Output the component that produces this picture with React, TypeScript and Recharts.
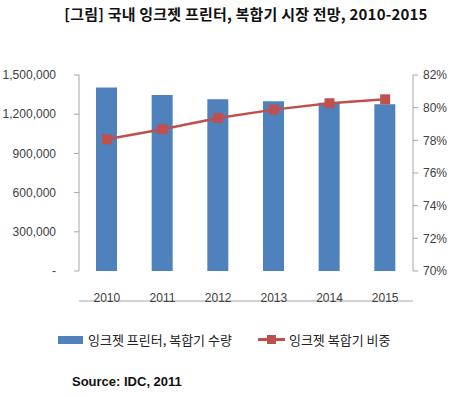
import React from 'react';
import { ComposedChart, Bar, Line, XAxis, YAxis } from 'recharts';

const years = ['2010', '2011', '2012', '2013', '2014', '2015'];
const units = [1405000, 1347000, 1314000, 1299000, 1288000, 1276000];
const share = [0.7806, 0.7868, 0.7937, 0.7988, 0.8027, 0.8051];
const leftTicks = [0, 300000, 600000, 900000, 1200000, 1500000];
const rightTicks = [0.7, 0.72, 0.74, 0.76, 0.78, 0.8, 0.82];
const seriesNames = ['잉크젯 프린터, 복합기 수량', '잉크젯 복합기 비중'];
const title = '[그림] 국내 잉크젯 프린터, 복합기 시장 전망, 2010-2015';
const source = 'Source: IDC, 2011';

const data = years.map((year, i) => ({ year, units: units[i], share: share[i], pos: i + 0.5 }));

const BLUE = '#4f81bd';
const RED = '#c0504d';
const AXIS = '#a6a6a6';
const TEXT = '#404040';
const tickFont = { fill: TEXT, fontSize: 12, fontFamily: 'Liberation Sans, Arial, sans-serif' };
const korean = '"Noto Sans CJK KR", sans-serif';

const SquareDot = (props: any) => {
  const { cx, cy, index } = props;
  if (cx == null || cy == null) return null;
  return <rect key={`dot-${index}`} x={cx - 5} y={cy - 5} width={10} height={10} fill={RED} />;
};

export default function App() {
  return (
    <div style={{ position: 'absolute', left: 0, top: 0, width: 453, height: 397, background: '#fff' }}>
      <div
        style={{
          position: 'absolute', top: 3, left: 0, width: 453, paddingLeft: 39, boxSizing: 'border-box',
          textAlign: 'center', fontFamily: korean, fontWeight: 700, fontSize: 15, letterSpacing: 0.2,
          color: '#111', whiteSpace: 'nowrap',
        }}
      >
        {title}
      </div>
      <ComposedChart
        width={453}
        height={397}
        data={data}
        margin={{ top: 75, right: 0, left: 0, bottom: 91 }}
        barCategoryGap={0}
      >
        <XAxis
          xAxisId="grid"
          type="number"
          dataKey="pos"
          domain={[0, 6]}
          ticks={[0, 1, 2, 3, 4, 5, 6]}
          tick={false}
          tickSize={5}
          height={5}
          stroke={AXIS}
          allowDataOverflow
        />
        <XAxis
          xAxisId="cat"
          dataKey="year"
          axisLine={false}
          tickLine={false}
          tickSize={6}
          tickMargin={16}
          height={30}
          tick={tickFont}
          interval={0}
        />
        <YAxis
          yAxisId="left"
          orientation="left"
          width={79}
          domain={[0, 1500000]}
          ticks={leftTicks}
          tickSize={5}
          tickMargin={18}
          stroke={AXIS}
          tick={tickFont}
          tickFormatter={(v: number) => (v === 0 ? '-' : v.toLocaleString('en-US'))}
          interval={0}
        />
        <YAxis
          yAxisId="right"
          orientation="right"
          width={40}
          domain={[0.7, 0.82]}
          ticks={rightTicks}
          tickSize={5}
          tickMargin={5}
          stroke={AXIS}
          tick={tickFont}
          tickFormatter={(v: number) => `${Math.round(v * 100)}%`}
          interval={0}
          allowDataOverflow
        />
        <Bar
          xAxisId="cat"
          yAxisId="left"
          dataKey="units"
          name={seriesNames[0]}
          fill={BLUE}
          barSize={21}
          isAnimationActive={false}
        />
        <Line
          xAxisId="cat"
          yAxisId="right"
          dataKey="share"
          name={seriesNames[1]}
          stroke={RED}
          strokeWidth={2.5}
          dot={<SquareDot />}
          activeDot={false}
          isAnimationActive={false}
        />
      </ComposedChart>
      <div
        style={{
          position: 'absolute', top: 330, left: 58, display: 'flex', alignItems: 'center',
          fontFamily: korean, fontSize: 13, color: '#222', whiteSpace: 'nowrap',
        }}
      >
        <span style={{ display: 'inline-block', width: 25, height: 8, background: BLUE, marginRight: 5 }} />
        <span>{seriesNames[0]}</span>
        <span style={{ position: 'relative', display: 'inline-block', width: 27, height: 10, marginLeft: 26, marginRight: 4 }}>
          <span style={{ position: 'absolute', left: 0, top: 3, width: 27, height: 3, background: RED }} />
          <span style={{ position: 'absolute', left: 9, top: 0, width: 9, height: 9, background: RED }} />
        </span>
        <span>{seriesNames[1]}</span>
      </div>
      <div
        style={{
          position: 'absolute', top: 374, left: 72, fontFamily: 'Liberation Sans, Arial, sans-serif',
          fontWeight: 700, fontSize: 13, color: '#111',
        }}
      >
        {source}
      </div>
    </div>
  );
}
